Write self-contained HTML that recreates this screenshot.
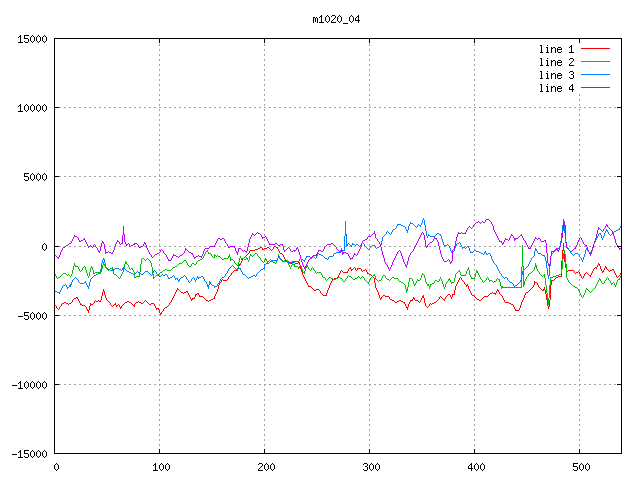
<!DOCTYPE html>
<html lang="en"><head><meta charset="utf-8"><title>m1020_04</title>
<style>
html,body{margin:0;padding:0;background:#fff;font-family:"Liberation Sans",sans-serif;}
svg{display:block}
</style></head><body>
<svg width="640" height="480" viewBox="0 0 640 480" shape-rendering="crispEdges">
<rect width="640" height="480" fill="#fff"/>
<g stroke="#a0a0a0" stroke-width="1" stroke-dasharray="2 3" fill="none"><line x1="54" y1="107.5" x2="621" y2="107.5"/><line x1="54" y1="176.5" x2="621" y2="176.5"/><line x1="54" y1="246.5" x2="621" y2="246.5"/><line x1="54" y1="315.5" x2="621" y2="315.5"/><line x1="54" y1="384.5" x2="621" y2="384.5"/><line x1="159.5" y1="451" x2="159.5" y2="38"/><line x1="264.5" y1="451" x2="264.5" y2="38"/><line x1="369.5" y1="451" x2="369.5" y2="38"/><line x1="474.5" y1="451" x2="474.5" y2="38"/><line x1="579.5" y1="451" x2="579.5" y2="93"/></g>
<path fill="#ff0000" d="M54 304h1v1h-1zM55 305h1v1h-1zM56 306h1v2h-1zM57 308h1v1h-1zM58 309h1v1h-1zM59 307h1v2h-1zM60 306h1v1h-1zM61 304h1v2h-1zM62 303h1v1h-1zM63 303h1v1h-1zM64 302h1v1h-1zM65 302h1v1h-1zM66 303h1v1h-1zM67 303h1v1h-1zM68 304h1v1h-1zM69 303h1v1h-1zM70 303h1v1h-1zM71 302h1v1h-1zM72 300h1v2h-1zM73 299h1v1h-1zM74 298h1v1h-1zM75 298h1v1h-1zM76 297h1v1h-1zM77 297h1v2h-1zM78 299h1v2h-1zM79 301h1v2h-1zM80 303h1v2h-1zM81 304h1v1h-1zM82 305h1v1h-1zM83 305h1v1h-1zM84 305h1v1h-1zM85 306h1v1h-1zM86 307h1v2h-1zM87 309h1v2h-1zM88 310h1v3h-1zM89 306h1v4h-1zM90 303h1v3h-1zM91 304h1v1h-1zM92 304h1v1h-1zM93 303h1v1h-1zM94 301h1v2h-1zM95 300h1v1h-1zM96 301h1v1h-1zM97 301h1v1h-1zM98 300h1v1h-1zM99 301h1v1h-1zM100 300h1v2h-1zM101 296h1v4h-1zM102 292h1v4h-1zM103 289h1v3h-1zM104 291h1v4h-1zM105 295h1v3h-1zM106 298h1v2h-1zM107 300h1v1h-1zM108 301h1v1h-1zM109 302h1v1h-1zM110 303h1v2h-1zM111 305h1v1h-1zM112 306h1v1h-1zM113 305h1v1h-1zM114 304h1v1h-1zM115 303h1v2h-1zM116 305h1v2h-1zM117 305h1v1h-1zM118 304h1v1h-1zM119 305h1v2h-1zM120 307h1v2h-1zM121 306h1v2h-1zM122 305h1v1h-1zM123 304h1v1h-1zM124 303h1v1h-1zM125 302h1v1h-1zM126 302h1v1h-1zM127 301h1v1h-1zM128 301h1v1h-1zM129 302h1v1h-1zM130 302h1v1h-1zM131 303h1v1h-1zM132 304h1v1h-1zM133 305h1v1h-1zM134 304h1v3h-1zM135 303h1v1h-1zM136 302h1v1h-1zM137 302h1v1h-1zM138 301h1v1h-1zM139 302h1v1h-1zM140 302h1v1h-1zM141 303h1v1h-1zM142 303h1v1h-1zM143 302h1v1h-1zM144 301h1v1h-1zM145 300h1v1h-1zM146 301h1v1h-1zM147 302h1v1h-1zM148 303h1v1h-1zM149 304h1v1h-1zM150 304h1v1h-1zM151 303h1v1h-1zM152 303h1v1h-1zM153 303h1v1h-1zM154 304h1v2h-1zM155 306h1v2h-1zM156 308h1v2h-1zM157 308h1v1h-1zM158 308h1v2h-1zM159 310h1v3h-1zM160 313h1v2h-1zM161 312h1v2h-1zM162 311h1v1h-1zM163 309h1v2h-1zM164 308h1v1h-1zM165 307h1v1h-1zM166 307h1v1h-1zM167 306h1v1h-1zM168 305h1v1h-1zM169 303h1v2h-1zM170 302h1v1h-1zM171 300h1v2h-1zM172 298h1v2h-1zM173 296h1v2h-1zM174 294h1v2h-1zM175 292h1v2h-1zM176 290h1v2h-1zM177 288h1v2h-1zM178 289h1v1h-1zM179 290h1v1h-1zM180 291h1v1h-1zM181 292h1v1h-1zM182 292h1v1h-1zM183 293h1v1h-1zM184 292h1v1h-1zM185 292h1v1h-1zM186 291h1v1h-1zM187 291h1v2h-1zM188 293h1v2h-1zM189 295h1v2h-1zM190 297h1v2h-1zM191 299h1v2h-1zM192 298h1v2h-1zM193 298h1v1h-1zM194 297h1v2h-1zM195 294h1v3h-1zM196 294h1v1h-1zM197 293h1v1h-1zM198 293h1v2h-1zM199 295h1v2h-1zM200 296h1v1h-1zM201 296h1v1h-1zM202 296h1v1h-1zM203 297h1v1h-1zM204 298h1v1h-1zM205 299h1v1h-1zM206 300h1v1h-1zM207 300h1v1h-1zM208 301h1v1h-1zM209 300h1v1h-1zM210 300h1v1h-1zM211 299h1v1h-1zM212 299h1v1h-1zM213 298h1v1h-1zM214 296h1v3h-1zM215 294h1v2h-1zM216 292h1v2h-1zM217 289h1v3h-1zM218 285h1v4h-1zM219 283h1v2h-1zM220 282h1v1h-1zM221 280h1v2h-1zM222 279h1v1h-1zM223 280h1v1h-1zM224 280h1v1h-1zM225 280h1v1h-1zM226 280h1v1h-1zM227 279h1v1h-1zM228 277h1v2h-1zM229 276h1v1h-1zM230 275h1v1h-1zM231 273h1v2h-1zM232 272h1v1h-1zM233 271h1v1h-1zM234 270h1v1h-1zM235 270h1v1h-1zM236 270h1v1h-1zM237 268h1v2h-1zM238 266h1v2h-1zM239 264h1v2h-1zM240 263h1v2h-1zM241 261h1v2h-1zM242 259h1v2h-1zM243 258h1v1h-1zM244 257h1v1h-1zM245 256h1v1h-1zM246 255h1v1h-1zM247 254h1v1h-1zM248 253h1v1h-1zM249 251h1v2h-1zM250 250h1v1h-1zM251 250h1v1h-1zM252 250h1v1h-1zM253 250h1v1h-1zM254 250h1v1h-1zM255 249h1v1h-1zM256 249h1v1h-1zM257 249h1v1h-1zM258 248h1v1h-1zM259 248h1v1h-1zM260 247h1v1h-1zM261 247h1v1h-1zM262 248h1v2h-1zM263 249h1v1h-1zM264 248h1v1h-1zM265 248h1v1h-1zM266 248h1v1h-1zM267 247h1v1h-1zM268 247h1v1h-1zM269 248h1v1h-1zM270 249h1v1h-1zM271 250h1v1h-1zM272 249h1v1h-1zM273 247h1v2h-1zM274 246h1v1h-1zM275 246h1v1h-1zM276 247h1v1h-1zM277 247h1v2h-1zM278 249h1v2h-1zM279 251h1v2h-1zM280 253h1v1h-1zM281 253h1v1h-1zM282 254h1v1h-1zM283 255h1v2h-1zM284 257h1v2h-1zM285 259h1v1h-1zM286 260h1v1h-1zM287 261h1v1h-1zM288 261h1v1h-1zM289 262h1v1h-1zM290 262h1v1h-1zM291 262h1v1h-1zM292 261h1v1h-1zM293 261h1v1h-1zM294 261h1v2h-1zM295 263h1v1h-1zM296 263h1v1h-1zM297 263h1v1h-1zM298 262h1v1h-1zM299 262h1v3h-1zM300 265h1v4h-1zM301 269h1v3h-1zM302 272h1v3h-1zM303 275h1v2h-1zM304 277h1v2h-1zM305 279h1v2h-1zM306 281h1v2h-1zM307 283h1v2h-1zM308 285h1v2h-1zM309 286h1v1h-1zM310 286h1v1h-1zM311 287h1v1h-1zM312 288h1v1h-1zM313 289h1v1h-1zM314 290h1v1h-1zM315 290h1v1h-1zM316 289h1v1h-1zM317 289h1v1h-1zM318 289h1v1h-1zM319 290h1v1h-1zM320 291h1v2h-1zM321 293h1v1h-1zM322 294h1v1h-1zM323 295h1v1h-1zM324 295h1v1h-1zM325 295h1v1h-1zM326 293h1v3h-1zM327 290h1v3h-1zM328 288h1v2h-1zM329 285h1v3h-1zM330 283h1v2h-1zM331 281h1v2h-1zM332 279h1v2h-1zM333 279h1v1h-1zM334 278h1v1h-1zM335 278h1v1h-1zM336 278h1v1h-1zM337 277h1v2h-1zM338 275h1v2h-1zM339 273h1v2h-1zM340 271h1v2h-1zM341 270h1v1h-1zM342 271h1v1h-1zM343 272h1v1h-1zM344 272h1v1h-1zM345 272h1v1h-1zM346 272h1v1h-1zM347 271h1v2h-1zM348 269h1v2h-1zM349 268h1v1h-1zM350 267h1v2h-1zM351 269h1v2h-1zM352 269h1v1h-1zM353 268h1v1h-1zM354 267h1v1h-1zM355 268h1v2h-1zM356 270h1v1h-1zM357 268h1v2h-1zM358 268h1v1h-1zM359 268h1v1h-1zM360 268h1v1h-1zM361 269h1v2h-1zM362 271h1v1h-1zM363 270h1v1h-1zM364 270h1v1h-1zM365 269h1v1h-1zM366 270h1v2h-1zM367 272h1v2h-1zM368 273h1v1h-1zM369 274h1v1h-1zM370 274h1v1h-1zM371 275h1v1h-1zM372 276h1v1h-1zM373 277h1v1h-1zM374 278h1v5h-1zM375 283h1v5h-1zM376 288h1v2h-1zM377 290h1v2h-1zM378 292h1v3h-1zM379 295h1v3h-1zM380 298h1v2h-1zM381 297h1v2h-1zM382 296h1v1h-1zM383 295h1v1h-1zM384 295h1v1h-1zM385 296h1v1h-1zM386 296h1v1h-1zM387 296h1v1h-1zM388 296h1v1h-1zM389 297h1v2h-1zM390 299h1v1h-1zM391 299h1v1h-1zM392 300h1v1h-1zM393 300h1v1h-1zM394 301h1v1h-1zM395 302h1v1h-1zM396 302h1v1h-1zM397 301h1v1h-1zM398 301h1v1h-1zM399 300h1v1h-1zM400 300h1v1h-1zM401 301h1v1h-1zM402 301h1v1h-1zM403 302h1v1h-1zM404 302h1v2h-1zM405 304h1v2h-1zM406 306h1v2h-1zM407 307h1v3h-1zM408 304h1v3h-1zM409 302h1v2h-1zM410 300h1v2h-1zM411 300h1v1h-1zM412 299h1v2h-1zM413 297h1v2h-1zM414 298h1v2h-1zM415 300h1v1h-1zM416 300h1v1h-1zM417 300h1v1h-1zM418 301h1v1h-1zM419 302h1v1h-1zM420 300h1v2h-1zM421 298h1v2h-1zM422 296h1v2h-1zM423 295h1v3h-1zM424 298h1v5h-1zM425 303h1v3h-1zM426 306h1v1h-1zM427 307h1v1h-1zM428 306h1v1h-1zM429 304h1v2h-1zM430 303h1v1h-1zM431 304h1v1h-1zM432 303h1v1h-1zM433 303h1v1h-1zM434 302h1v1h-1zM435 302h1v1h-1zM436 301h1v1h-1zM437 300h1v1h-1zM438 299h1v1h-1zM439 297h1v2h-1zM440 296h1v1h-1zM441 297h1v1h-1zM442 298h1v1h-1zM443 299h1v1h-1zM444 299h1v2h-1zM445 297h1v2h-1zM446 296h1v1h-1zM447 295h1v1h-1zM448 294h1v1h-1zM449 294h1v1h-1zM450 295h1v2h-1zM451 297h1v2h-1zM452 294h1v3h-1zM453 294h1v1h-1zM454 290h1v5h-1zM455 286h1v4h-1zM456 284h1v2h-1zM457 282h1v2h-1zM458 280h1v2h-1zM459 278h1v2h-1zM460 277h1v1h-1zM461 278h1v2h-1zM462 280h1v1h-1zM463 281h1v1h-1zM464 282h1v2h-1zM465 284h1v1h-1zM466 285h1v2h-1zM467 284h1v2h-1zM468 286h1v3h-1zM469 289h1v2h-1zM470 291h1v2h-1zM471 293h1v2h-1zM472 295h1v1h-1zM473 295h1v1h-1zM474 296h1v1h-1zM475 297h1v1h-1zM476 298h1v1h-1zM477 299h1v1h-1zM478 299h1v1h-1zM479 300h1v1h-1zM480 300h1v1h-1zM481 299h1v1h-1zM482 298h1v1h-1zM483 297h1v1h-1zM484 296h1v1h-1zM485 296h1v1h-1zM486 296h1v1h-1zM487 296h1v1h-1zM488 295h1v1h-1zM489 294h1v1h-1zM490 293h1v1h-1zM491 293h1v1h-1zM492 292h1v1h-1zM493 293h1v1h-1zM494 293h1v1h-1zM495 293h1v2h-1zM496 291h1v2h-1zM497 289h1v2h-1zM498 290h1v2h-1zM499 292h1v2h-1zM500 294h1v1h-1zM501 295h1v1h-1zM502 296h1v2h-1zM503 298h1v2h-1zM504 300h1v2h-1zM505 302h1v1h-1zM506 302h1v1h-1zM507 302h1v1h-1zM508 302h1v1h-1zM509 303h1v1h-1zM510 303h1v1h-1zM511 304h1v1h-1zM512 304h1v1h-1zM513 305h1v2h-1zM514 307h1v2h-1zM515 309h1v2h-1zM516 310h1v1h-1zM517 310h1v1h-1zM518 310h1v1h-1zM519 308h1v2h-1zM520 305h1v3h-1zM521 302h1v3h-1zM522 300h1v2h-1zM523 298h1v2h-1zM524 295h1v3h-1zM525 293h1v2h-1zM526 292h1v1h-1zM527 292h1v1h-1zM528 291h1v1h-1zM529 290h1v1h-1zM530 289h1v1h-1zM531 288h1v1h-1zM532 287h1v1h-1zM533 285h1v2h-1zM534 281h1v4h-1zM535 282h1v1h-1zM536 282h1v1h-1zM537 283h1v2h-1zM538 285h1v2h-1zM539 287h1v1h-1zM540 288h1v1h-1zM541 289h1v1h-1zM542 290h1v1h-1zM543 289h1v2h-1zM544 287h1v3h-1zM545 290h1v4h-1zM546 294h1v6h-1zM547 300h1v6h-1zM548 306h1v3h-1zM549 300h1v7h-1zM550 285h1v15h-1zM551 280h1v5h-1zM552 280h1v1h-1zM553 280h1v1h-1zM554 279h1v1h-1zM555 278h1v1h-1zM556 277h1v1h-1zM557 277h1v1h-1zM558 276h1v1h-1zM559 276h1v1h-1zM560 276h1v1h-1zM561 261h1v16h-1zM562 250h1v11h-1zM563 243h1v8h-1zM564 251h1v11h-1zM565 262h1v6h-1zM566 268h1v4h-1zM567 271h1v1h-1zM568 270h1v1h-1zM569 270h1v1h-1zM570 270h1v1h-1zM571 270h1v1h-1zM572 270h1v1h-1zM573 270h1v1h-1zM574 271h1v2h-1zM575 273h1v1h-1zM576 272h1v1h-1zM577 272h1v1h-1zM578 271h1v1h-1zM579 272h1v2h-1zM580 274h1v2h-1zM581 276h1v2h-1zM582 278h1v1h-1zM583 276h1v2h-1zM584 274h1v2h-1zM585 273h1v1h-1zM586 272h1v1h-1zM587 273h1v1h-1zM588 274h1v1h-1zM589 275h1v1h-1zM590 275h1v2h-1zM591 273h1v2h-1zM592 271h1v2h-1zM593 269h1v2h-1zM594 268h1v1h-1zM595 267h1v1h-1zM596 267h1v2h-1zM597 265h1v2h-1zM598 263h1v2h-1zM599 264h1v2h-1zM600 266h1v3h-1zM601 269h1v2h-1zM602 271h1v2h-1zM603 270h1v2h-1zM604 268h1v2h-1zM605 266h1v2h-1zM606 267h1v2h-1zM607 269h1v1h-1zM608 270h1v1h-1zM609 271h1v1h-1zM610 270h1v1h-1zM611 270h1v1h-1zM612 269h1v1h-1zM613 269h1v2h-1zM614 271h1v2h-1zM615 273h1v2h-1zM616 275h1v2h-1zM617 277h1v1h-1zM618 276h1v1h-1zM619 275h1v1h-1zM620 273h1v2h-1z"/>
<path fill="#00c000" d="M54 273h1v1h-1zM55 274h1v2h-1zM56 276h1v2h-1zM57 278h1v1h-1zM58 277h1v1h-1zM59 277h1v1h-1zM60 276h1v1h-1zM61 275h1v1h-1zM62 274h1v1h-1zM63 273h1v1h-1zM64 273h1v1h-1zM65 273h1v1h-1zM66 274h1v1h-1zM67 275h1v1h-1zM68 274h1v1h-1zM69 275h1v1h-1zM70 276h1v1h-1zM71 274h1v2h-1zM72 270h1v4h-1zM73 266h1v4h-1zM74 263h1v3h-1zM75 265h1v2h-1zM76 266h1v1h-1zM77 266h1v1h-1zM78 267h1v2h-1zM79 269h1v2h-1zM80 271h1v1h-1zM81 270h1v1h-1zM82 268h1v2h-1zM83 267h1v1h-1zM84 266h1v1h-1zM85 267h1v3h-1zM86 270h1v3h-1zM87 273h1v3h-1zM88 276h1v2h-1zM89 272h1v4h-1zM90 268h1v4h-1zM91 266h1v2h-1zM92 267h1v3h-1zM93 270h1v4h-1zM94 273h1v1h-1zM95 272h1v1h-1zM96 272h1v1h-1zM97 272h1v1h-1zM98 272h1v1h-1zM99 273h1v1h-1zM100 272h1v2h-1zM101 269h1v3h-1zM102 265h1v4h-1zM103 262h1v3h-1zM104 264h1v2h-1zM105 266h1v2h-1zM106 268h1v1h-1zM107 269h1v1h-1zM108 270h1v1h-1zM109 269h1v1h-1zM110 268h1v1h-1zM111 268h1v1h-1zM112 267h1v3h-1zM113 270h1v4h-1zM114 274h1v1h-1zM115 274h1v1h-1zM116 275h1v1h-1zM117 276h1v1h-1zM118 277h1v1h-1zM119 278h1v1h-1zM120 276h1v2h-1zM121 274h1v2h-1zM122 272h1v2h-1zM123 268h1v4h-1zM124 264h1v4h-1zM125 261h1v3h-1zM126 262h1v2h-1zM127 264h1v1h-1zM128 265h1v2h-1zM129 267h1v2h-1zM130 269h1v1h-1zM131 268h1v1h-1zM132 268h1v2h-1zM133 270h1v2h-1zM134 272h1v6h-1zM135 277h1v1h-1zM136 276h1v1h-1zM137 276h1v1h-1zM138 276h1v1h-1zM139 272h1v5h-1zM140 264h1v8h-1zM141 259h1v5h-1zM142 258h1v1h-1zM143 258h1v1h-1zM144 259h1v1h-1zM145 260h1v1h-1zM146 259h1v1h-1zM147 258h1v1h-1zM148 259h1v1h-1zM149 260h1v1h-1zM150 261h1v2h-1zM151 263h1v4h-1zM152 267h1v7h-1zM153 274h1v5h-1zM154 277h1v1h-1zM155 276h1v1h-1zM156 275h1v1h-1zM157 275h1v1h-1zM158 274h1v1h-1zM159 273h1v1h-1zM160 272h1v1h-1zM161 272h1v1h-1zM162 271h1v1h-1zM163 270h1v1h-1zM164 270h1v1h-1zM165 269h1v1h-1zM166 269h1v1h-1zM167 270h1v1h-1zM168 270h1v1h-1zM169 270h1v1h-1zM170 270h1v1h-1zM171 269h1v1h-1zM172 268h1v1h-1zM173 267h1v1h-1zM174 267h1v1h-1zM175 266h1v1h-1zM176 266h1v1h-1zM177 265h1v1h-1zM178 264h1v1h-1zM179 263h1v1h-1zM180 263h1v1h-1zM181 263h1v1h-1zM182 262h1v1h-1zM183 261h1v1h-1zM184 260h1v1h-1zM185 260h1v1h-1zM186 261h1v2h-1zM187 263h1v2h-1zM188 265h1v1h-1zM189 266h1v1h-1zM190 266h1v1h-1zM191 264h1v2h-1zM192 263h1v1h-1zM193 263h1v1h-1zM194 264h1v1h-1zM195 264h1v1h-1zM196 262h1v2h-1zM197 261h1v1h-1zM198 260h1v1h-1zM199 260h1v1h-1zM200 259h1v1h-1zM201 259h1v1h-1zM202 258h1v1h-1zM203 256h1v2h-1zM204 254h1v2h-1zM205 252h1v2h-1zM206 251h1v1h-1zM207 250h1v2h-1zM208 252h1v2h-1zM209 253h1v1h-1zM210 253h1v1h-1zM211 254h1v2h-1zM212 256h1v1h-1zM213 257h1v1h-1zM214 254h1v4h-1zM215 255h1v1h-1zM216 256h1v1h-1zM217 255h1v1h-1zM218 256h1v1h-1zM219 256h1v1h-1zM220 257h1v1h-1zM221 258h1v1h-1zM222 259h1v1h-1zM223 259h1v1h-1zM224 258h1v1h-1zM225 258h1v1h-1zM226 258h1v1h-1zM227 258h1v1h-1zM228 256h1v2h-1zM229 254h1v3h-1zM230 257h1v4h-1zM231 259h1v1h-1zM232 259h1v1h-1zM233 260h1v1h-1zM234 261h1v2h-1zM235 263h1v1h-1zM236 264h1v1h-1zM237 265h1v1h-1zM238 262h1v5h-1zM239 258h1v4h-1zM240 256h1v2h-1zM241 258h1v2h-1zM242 258h1v1h-1zM243 258h1v1h-1zM244 259h1v1h-1zM245 259h1v1h-1zM246 257h1v2h-1zM247 258h1v2h-1zM248 260h1v2h-1zM249 256h1v4h-1zM250 254h1v2h-1zM251 255h1v1h-1zM252 256h1v1h-1zM253 255h1v1h-1zM254 254h1v1h-1zM255 253h1v1h-1zM256 253h1v1h-1zM257 254h1v2h-1zM258 256h1v1h-1zM259 257h1v1h-1zM260 258h1v2h-1zM261 260h1v1h-1zM262 261h1v1h-1zM263 262h1v1h-1zM264 260h1v2h-1zM265 258h1v2h-1zM266 259h1v2h-1zM267 261h1v2h-1zM268 261h1v1h-1zM269 260h1v1h-1zM270 259h1v1h-1zM271 260h1v1h-1zM272 261h1v1h-1zM273 262h1v1h-1zM274 262h1v1h-1zM275 263h1v1h-1zM276 261h1v2h-1zM277 258h1v3h-1zM278 254h1v4h-1zM279 256h1v3h-1zM280 259h1v1h-1zM281 259h1v1h-1zM282 260h1v1h-1zM283 261h1v1h-1zM284 261h1v1h-1zM285 261h1v1h-1zM286 260h1v1h-1zM287 260h1v2h-1zM288 262h1v3h-1zM289 265h1v2h-1zM290 267h1v2h-1zM291 265h1v2h-1zM292 263h1v2h-1zM293 264h1v1h-1zM294 264h1v3h-1zM295 266h1v1h-1zM296 266h1v1h-1zM297 266h1v1h-1zM298 267h1v2h-1zM299 266h1v2h-1zM300 265h1v1h-1zM301 266h1v3h-1zM302 269h1v3h-1zM303 272h1v1h-1zM304 271h1v3h-1zM305 268h1v3h-1zM306 266h1v2h-1zM307 265h1v2h-1zM308 267h1v2h-1zM309 269h1v1h-1zM310 270h1v1h-1zM311 268h1v2h-1zM312 267h1v1h-1zM313 268h1v2h-1zM314 270h1v1h-1zM315 271h1v2h-1zM316 273h1v1h-1zM317 272h1v1h-1zM318 272h1v1h-1zM319 272h1v1h-1zM320 272h1v1h-1zM321 273h1v2h-1zM322 275h1v2h-1zM323 277h1v1h-1zM324 277h1v1h-1zM325 278h1v2h-1zM326 280h1v1h-1zM327 279h1v1h-1zM328 278h1v1h-1zM329 277h1v1h-1zM330 277h1v1h-1zM331 278h1v1h-1zM332 278h1v1h-1zM333 279h1v1h-1zM334 279h1v1h-1zM335 279h1v1h-1zM336 278h1v1h-1zM337 278h1v1h-1zM338 277h1v1h-1zM339 277h1v1h-1zM340 278h1v1h-1zM341 278h1v1h-1zM342 279h1v2h-1zM343 281h1v1h-1zM344 281h1v1h-1zM345 279h1v2h-1zM346 278h1v1h-1zM347 276h1v2h-1zM348 275h1v1h-1zM349 276h1v1h-1zM350 276h1v1h-1zM351 277h1v1h-1zM352 278h1v1h-1zM353 279h1v1h-1zM354 279h1v1h-1zM355 278h1v1h-1zM356 278h1v1h-1zM357 277h1v1h-1zM358 276h1v1h-1zM359 277h1v1h-1zM360 278h1v1h-1zM361 277h1v1h-1zM362 276h1v1h-1zM363 277h1v1h-1zM364 278h1v2h-1zM365 280h1v1h-1zM366 281h1v1h-1zM367 282h1v1h-1zM368 282h1v2h-1zM369 280h1v2h-1zM370 278h1v2h-1zM371 277h1v1h-1zM372 276h1v1h-1zM373 275h1v1h-1zM374 274h1v2h-1zM375 276h1v3h-1zM376 279h1v1h-1zM377 280h1v1h-1zM378 281h1v1h-1zM379 280h1v1h-1zM380 280h1v1h-1zM381 278h1v2h-1zM382 276h1v2h-1zM383 275h1v1h-1zM384 275h1v1h-1zM385 276h1v2h-1zM386 278h1v1h-1zM387 279h1v1h-1zM388 279h1v1h-1zM389 280h1v1h-1zM390 279h1v1h-1zM391 278h1v1h-1zM392 277h1v1h-1zM393 277h1v1h-1zM394 278h1v1h-1zM395 278h1v1h-1zM396 278h1v1h-1zM397 278h1v1h-1zM398 279h1v2h-1zM399 281h1v1h-1zM400 281h1v1h-1zM401 282h1v1h-1zM402 282h1v1h-1zM403 283h1v1h-1zM404 284h1v1h-1zM405 285h1v4h-1zM406 289h1v4h-1zM407 287h1v4h-1zM408 282h1v5h-1zM409 278h1v4h-1zM410 278h1v1h-1zM411 278h1v1h-1zM412 279h1v2h-1zM413 281h1v3h-1zM414 284h1v2h-1zM415 283h1v2h-1zM416 281h1v2h-1zM417 279h1v2h-1zM418 280h1v1h-1zM419 280h1v1h-1zM420 278h1v2h-1zM421 275h1v3h-1zM422 273h1v2h-1zM423 274h1v1h-1zM424 275h1v3h-1zM425 278h1v4h-1zM426 282h1v2h-1zM427 284h1v2h-1zM428 284h1v2h-1zM429 286h1v3h-1zM430 284h1v3h-1zM431 284h1v1h-1zM432 283h1v1h-1zM433 283h1v1h-1zM434 281h1v2h-1zM435 280h1v1h-1zM436 280h1v1h-1zM437 281h1v1h-1zM438 281h1v1h-1zM439 279h1v2h-1zM440 277h1v2h-1zM441 279h1v2h-1zM442 281h1v3h-1zM443 284h1v3h-1zM444 287h1v2h-1zM445 284h1v3h-1zM446 282h1v2h-1zM447 281h1v1h-1zM448 279h1v2h-1zM449 278h1v2h-1zM450 280h1v2h-1zM451 282h1v2h-1zM452 282h1v1h-1zM453 282h1v1h-1zM454 278h1v4h-1zM455 274h1v4h-1zM456 273h1v1h-1zM457 272h1v1h-1zM458 271h1v1h-1zM459 270h1v2h-1zM460 272h1v3h-1zM461 275h1v1h-1zM462 275h1v1h-1zM463 275h1v1h-1zM464 275h1v1h-1zM465 274h1v2h-1zM466 271h1v3h-1zM467 269h1v2h-1zM468 267h1v3h-1zM469 270h1v5h-1zM470 275h1v2h-1zM471 277h1v2h-1zM472 278h1v1h-1zM473 278h1v1h-1zM474 277h1v2h-1zM475 273h1v4h-1zM476 270h1v3h-1zM477 271h1v2h-1zM478 273h1v2h-1zM479 275h1v2h-1zM480 277h1v2h-1zM481 279h1v1h-1zM482 280h1v2h-1zM483 282h1v1h-1zM484 281h1v1h-1zM485 280h1v1h-1zM486 278h1v2h-1zM487 277h1v1h-1zM488 278h1v2h-1zM489 280h1v2h-1zM490 280h1v1h-1zM491 280h1v1h-1zM492 281h1v1h-1zM493 282h1v1h-1zM494 281h1v1h-1zM495 281h1v1h-1zM496 279h1v2h-1zM497 278h1v1h-1zM498 279h1v1h-1zM499 279h1v3h-1zM500 282h1v4h-1zM501 286h1v3h-1zM502 286h1v2h-1zM503 287h1v1h-1zM504 287h1v1h-1zM505 287h1v1h-1zM506 287h1v1h-1zM507 287h1v1h-1zM508 287h1v1h-1zM509 287h1v1h-1zM510 287h1v1h-1zM511 287h1v1h-1zM512 287h1v1h-1zM513 287h1v1h-1zM514 287h1v1h-1zM515 287h1v1h-1zM516 287h1v1h-1zM517 287h1v1h-1zM518 287h1v1h-1zM519 287h1v1h-1zM520 287h1v1h-1zM521 267h1v21h-1zM522 245h1v22h-1zM523 266h1v21h-1zM524 281h1v4h-1zM525 279h1v2h-1zM526 277h1v2h-1zM527 276h1v1h-1zM528 274h1v2h-1zM529 273h1v1h-1zM530 273h1v1h-1zM531 272h1v1h-1zM532 271h1v1h-1zM533 270h1v1h-1zM534 267h1v3h-1zM535 263h1v4h-1zM536 265h1v4h-1zM537 269h1v2h-1zM538 271h1v1h-1zM539 272h1v2h-1zM540 274h1v1h-1zM541 275h1v1h-1zM542 276h1v1h-1zM543 275h1v1h-1zM544 274h1v4h-1zM545 278h1v7h-1zM546 285h1v8h-1zM547 293h1v7h-1zM548 298h1v7h-1zM549 285h1v13h-1zM550 277h1v8h-1zM551 277h1v1h-1zM552 277h1v1h-1zM553 276h1v1h-1zM554 276h1v1h-1zM555 276h1v1h-1zM556 275h1v1h-1zM557 275h1v1h-1zM558 275h1v1h-1zM559 274h1v1h-1zM560 274h1v1h-1zM561 269h1v5h-1zM562 259h1v10h-1zM563 253h1v6h-1zM564 250h1v4h-1zM565 254h1v10h-1zM566 264h1v14h-1zM567 278h1v2h-1zM568 280h1v2h-1zM569 282h1v1h-1zM570 283h1v1h-1zM571 284h1v1h-1zM572 285h1v1h-1zM573 286h1v1h-1zM574 286h1v1h-1zM575 287h1v1h-1zM576 287h1v1h-1zM577 288h1v1h-1zM578 289h1v2h-1zM579 291h1v2h-1zM580 293h1v2h-1zM581 295h1v2h-1zM582 297h1v1h-1zM583 295h1v2h-1zM584 293h1v2h-1zM585 290h1v3h-1zM586 288h1v2h-1zM587 289h1v1h-1zM588 290h1v1h-1zM589 291h1v1h-1zM590 292h1v1h-1zM591 291h1v1h-1zM592 290h1v1h-1zM593 289h1v1h-1zM594 288h1v1h-1zM595 286h1v2h-1zM596 284h1v2h-1zM597 282h1v2h-1zM598 280h1v2h-1zM599 278h1v2h-1zM600 279h1v2h-1zM601 281h1v2h-1zM602 283h1v1h-1zM603 283h1v1h-1zM604 281h1v2h-1zM605 280h1v1h-1zM606 278h1v2h-1zM607 277h1v1h-1zM608 278h1v2h-1zM609 280h1v1h-1zM610 281h1v2h-1zM611 283h1v2h-1zM612 283h1v1h-1zM613 282h1v1h-1zM614 283h1v2h-1zM615 285h1v2h-1zM616 282h1v3h-1zM617 280h1v2h-1zM618 279h1v1h-1zM619 278h1v2h-1zM620 276h1v2h-1z"/>
<path fill="#0080ff" d="M54 290h1v1h-1zM55 291h1v1h-1zM56 291h1v1h-1zM57 292h1v1h-1zM58 292h1v1h-1zM59 292h1v2h-1zM60 290h1v2h-1zM61 288h1v2h-1zM62 286h1v2h-1zM63 285h1v1h-1zM64 285h1v1h-1zM65 284h1v1h-1zM66 285h1v2h-1zM67 287h1v2h-1zM68 287h1v1h-1zM69 285h1v2h-1zM70 284h1v3h-1zM71 282h1v3h-1zM72 280h1v2h-1zM73 279h1v1h-1zM74 278h1v1h-1zM75 277h1v1h-1zM76 278h1v1h-1zM77 279h1v1h-1zM78 280h1v2h-1zM79 282h1v1h-1zM80 283h1v1h-1zM81 283h1v1h-1zM82 283h1v1h-1zM83 283h1v1h-1zM84 282h1v1h-1zM85 281h1v2h-1zM86 283h1v2h-1zM87 285h1v2h-1zM88 286h1v3h-1zM89 282h1v4h-1zM90 279h1v3h-1zM91 278h1v1h-1zM92 277h1v1h-1zM93 276h1v1h-1zM94 275h1v1h-1zM95 275h1v1h-1zM96 274h1v1h-1zM97 274h1v1h-1zM98 273h1v1h-1zM99 272h1v1h-1zM100 269h1v3h-1zM101 263h1v6h-1zM102 260h1v3h-1zM103 258h1v2h-1zM104 259h1v4h-1zM105 263h1v4h-1zM106 267h1v1h-1zM107 268h1v1h-1zM108 269h1v1h-1zM109 269h1v1h-1zM110 270h1v1h-1zM111 270h1v1h-1zM112 270h1v1h-1zM113 269h1v1h-1zM114 269h1v1h-1zM115 268h1v1h-1zM116 268h1v1h-1zM117 268h1v1h-1zM118 268h1v1h-1zM119 269h1v1h-1zM120 269h1v1h-1zM121 270h1v1h-1zM122 268h1v2h-1zM123 267h1v1h-1zM124 268h1v1h-1zM125 269h1v1h-1zM126 270h1v1h-1zM127 271h1v1h-1zM128 271h1v1h-1zM129 272h1v1h-1zM130 272h1v1h-1zM131 273h1v1h-1zM132 273h1v1h-1zM133 274h1v1h-1zM134 274h1v1h-1zM135 273h1v1h-1zM136 272h1v1h-1zM137 271h1v1h-1zM138 272h1v1h-1zM139 273h1v1h-1zM140 273h1v1h-1zM141 274h1v1h-1zM142 274h1v1h-1zM143 273h1v1h-1zM144 272h1v1h-1zM145 271h1v1h-1zM146 271h1v1h-1zM147 271h1v1h-1zM148 272h1v1h-1zM149 273h1v1h-1zM150 274h1v1h-1zM151 275h1v1h-1zM152 273h1v2h-1zM153 271h1v2h-1zM154 270h1v1h-1zM155 271h1v1h-1zM156 272h1v2h-1zM157 274h1v1h-1zM158 275h1v1h-1zM159 276h1v1h-1zM160 276h1v1h-1zM161 275h1v1h-1zM162 274h1v1h-1zM163 275h1v1h-1zM164 275h1v1h-1zM165 274h1v1h-1zM166 274h1v1h-1zM167 275h1v2h-1zM168 277h1v2h-1zM169 278h1v1h-1zM170 277h1v1h-1zM171 277h1v1h-1zM172 276h1v1h-1zM173 275h1v1h-1zM174 276h1v2h-1zM175 278h1v2h-1zM176 278h1v1h-1zM177 278h1v2h-1zM178 280h1v2h-1zM179 279h1v2h-1zM180 278h1v1h-1zM181 277h1v1h-1zM182 277h1v1h-1zM183 276h1v1h-1zM184 275h1v1h-1zM185 276h1v1h-1zM186 277h1v2h-1zM187 279h1v1h-1zM188 280h1v2h-1zM189 282h1v1h-1zM190 281h1v1h-1zM191 279h1v2h-1zM192 278h1v1h-1zM193 277h1v1h-1zM194 278h1v2h-1zM195 280h1v2h-1zM196 278h1v2h-1zM197 276h1v2h-1zM198 277h1v2h-1zM199 277h1v1h-1zM200 277h1v1h-1zM201 276h1v1h-1zM202 276h1v1h-1zM203 277h1v2h-1zM204 279h1v2h-1zM205 281h1v1h-1zM206 282h1v2h-1zM207 284h1v3h-1zM208 285h1v4h-1zM209 281h1v4h-1zM210 282h1v2h-1zM211 284h1v1h-1zM212 285h1v1h-1zM213 285h1v1h-1zM214 286h1v2h-1zM215 286h1v1h-1zM216 286h1v1h-1zM217 284h1v2h-1zM218 283h1v1h-1zM219 281h1v2h-1zM220 279h1v2h-1zM221 278h1v1h-1zM222 277h1v1h-1zM223 277h1v1h-1zM224 276h1v1h-1zM225 274h1v2h-1zM226 273h1v1h-1zM227 271h1v2h-1zM228 269h1v2h-1zM229 268h1v1h-1zM230 267h1v1h-1zM231 266h1v1h-1zM232 265h1v1h-1zM233 266h1v1h-1zM234 267h1v1h-1zM235 268h1v1h-1zM236 269h1v1h-1zM237 269h1v2h-1zM238 267h1v2h-1zM239 268h1v1h-1zM240 268h1v2h-1zM241 270h1v2h-1zM242 272h1v2h-1zM243 274h1v1h-1zM244 274h1v1h-1zM245 275h1v1h-1zM246 276h1v1h-1zM247 277h1v1h-1zM248 278h1v1h-1zM249 277h1v1h-1zM250 277h1v1h-1zM251 276h1v1h-1zM252 276h1v1h-1zM253 275h1v1h-1zM254 275h1v1h-1zM255 276h1v1h-1zM256 274h1v2h-1zM257 273h1v1h-1zM258 272h1v1h-1zM259 271h1v1h-1zM260 270h1v1h-1zM261 269h1v1h-1zM262 269h1v1h-1zM263 268h1v1h-1zM264 264h1v5h-1zM265 264h1v1h-1zM266 263h1v1h-1zM267 263h1v1h-1zM268 263h1v1h-1zM269 262h1v1h-1zM270 261h1v1h-1zM271 261h1v1h-1zM272 260h1v1h-1zM273 260h1v1h-1zM274 260h1v1h-1zM275 260h1v1h-1zM276 260h1v1h-1zM277 258h1v2h-1zM278 256h1v2h-1zM279 257h1v1h-1zM280 258h1v1h-1zM281 259h1v2h-1zM282 261h1v1h-1zM283 261h1v1h-1zM284 260h1v1h-1zM285 260h1v1h-1zM286 261h1v1h-1zM287 262h1v1h-1zM288 262h1v1h-1zM289 263h1v1h-1zM290 263h1v1h-1zM291 263h1v1h-1zM292 262h1v1h-1zM293 262h1v1h-1zM294 261h1v2h-1zM295 261h1v1h-1zM296 261h1v1h-1zM297 261h1v1h-1zM298 261h1v1h-1zM299 259h1v2h-1zM300 258h1v1h-1zM301 259h1v1h-1zM302 259h1v1h-1zM303 260h1v1h-1zM304 260h1v2h-1zM305 258h1v2h-1zM306 256h1v2h-1zM307 256h1v1h-1zM308 256h1v1h-1zM309 256h1v1h-1zM310 257h1v1h-1zM311 258h1v1h-1zM312 257h1v1h-1zM313 256h1v1h-1zM314 257h1v1h-1zM315 258h1v1h-1zM316 256h1v2h-1zM317 254h1v2h-1zM318 253h1v1h-1zM319 254h1v1h-1zM320 254h1v1h-1zM321 255h1v1h-1zM322 255h1v1h-1zM323 256h1v1h-1zM324 257h1v1h-1zM325 258h1v1h-1zM326 258h1v1h-1zM327 259h1v1h-1zM328 257h1v2h-1zM329 256h1v1h-1zM330 256h1v1h-1zM331 256h1v1h-1zM332 256h1v1h-1zM333 254h1v2h-1zM334 253h1v1h-1zM335 253h1v1h-1zM336 252h1v1h-1zM337 252h1v1h-1zM338 252h1v1h-1zM339 252h1v1h-1zM340 251h1v2h-1zM341 248h1v3h-1zM342 250h1v2h-1zM343 250h1v1h-1zM344 236h1v15h-1zM345 221h1v15h-1zM346 234h1v13h-1zM347 244h1v2h-1zM348 243h1v1h-1zM349 244h1v1h-1zM350 245h1v1h-1zM351 245h1v2h-1zM352 243h1v2h-1zM353 244h1v1h-1zM354 244h1v1h-1zM355 245h1v1h-1zM356 244h1v1h-1zM357 244h1v1h-1zM358 245h1v1h-1zM359 246h1v1h-1zM360 245h1v1h-1zM361 243h1v2h-1zM362 242h1v1h-1zM363 243h1v1h-1zM364 244h1v2h-1zM365 246h1v1h-1zM366 247h1v1h-1zM367 248h1v1h-1zM368 249h1v1h-1zM369 248h1v1h-1zM370 247h1v1h-1zM371 246h1v1h-1zM372 245h1v1h-1zM373 245h1v1h-1zM374 245h1v1h-1zM375 246h1v2h-1zM376 248h1v1h-1zM377 247h1v1h-1zM378 247h1v1h-1zM379 246h1v1h-1zM380 245h1v1h-1zM381 241h1v4h-1zM382 237h1v4h-1zM383 236h1v1h-1zM384 235h1v1h-1zM385 234h1v1h-1zM386 232h1v2h-1zM387 231h1v1h-1zM388 232h1v1h-1zM389 233h1v1h-1zM390 234h1v1h-1zM391 232h1v2h-1zM392 230h1v2h-1zM393 229h1v1h-1zM394 229h1v1h-1zM395 228h1v1h-1zM396 226h1v2h-1zM397 224h1v2h-1zM398 224h1v1h-1zM399 224h1v1h-1zM400 224h1v1h-1zM401 225h1v1h-1zM402 225h1v1h-1zM403 226h1v1h-1zM404 226h1v1h-1zM405 227h1v2h-1zM406 229h1v2h-1zM407 230h1v3h-1zM408 226h1v4h-1zM409 224h1v2h-1zM410 222h1v2h-1zM411 223h1v1h-1zM412 223h1v1h-1zM413 224h1v1h-1zM414 225h1v1h-1zM415 226h1v1h-1zM416 227h1v1h-1zM417 225h1v2h-1zM418 224h1v1h-1zM419 225h1v1h-1zM420 225h1v2h-1zM421 223h1v2h-1zM422 220h1v3h-1zM423 218h1v2h-1zM424 220h1v5h-1zM425 225h1v6h-1zM426 231h1v5h-1zM427 236h1v2h-1zM428 234h1v2h-1zM429 235h1v1h-1zM430 236h1v1h-1zM431 236h1v1h-1zM432 236h1v1h-1zM433 236h1v1h-1zM434 236h1v1h-1zM435 235h1v1h-1zM436 234h1v1h-1zM437 233h1v1h-1zM438 233h1v1h-1zM439 234h1v1h-1zM440 234h1v2h-1zM441 236h1v3h-1zM442 239h1v3h-1zM443 242h1v3h-1zM444 245h1v2h-1zM445 245h1v1h-1zM446 245h1v1h-1zM447 244h1v1h-1zM448 245h1v1h-1zM449 246h1v2h-1zM450 248h1v3h-1zM451 251h1v2h-1zM452 251h1v1h-1zM453 251h1v1h-1zM454 248h1v3h-1zM455 246h1v2h-1zM456 244h1v2h-1zM457 243h1v1h-1zM458 243h1v1h-1zM459 242h1v1h-1zM460 243h1v2h-1zM461 245h1v2h-1zM462 247h1v2h-1zM463 247h1v1h-1zM464 247h1v1h-1zM465 248h1v1h-1zM466 247h1v1h-1zM467 246h1v1h-1zM468 246h1v2h-1zM469 248h1v3h-1zM470 251h1v2h-1zM471 252h1v1h-1zM472 252h1v1h-1zM473 251h1v1h-1zM474 250h1v1h-1zM475 250h1v1h-1zM476 251h1v1h-1zM477 251h1v1h-1zM478 251h1v1h-1zM479 252h1v1h-1zM480 252h1v1h-1zM481 253h1v1h-1zM482 253h1v1h-1zM483 254h1v1h-1zM484 252h1v2h-1zM485 251h1v2h-1zM486 253h1v2h-1zM487 254h1v1h-1zM488 253h1v1h-1zM489 253h1v1h-1zM490 254h1v2h-1zM491 256h1v3h-1zM492 259h1v2h-1zM493 261h1v2h-1zM494 263h1v1h-1zM495 264h1v1h-1zM496 265h1v2h-1zM497 267h1v2h-1zM498 269h1v2h-1zM499 271h1v2h-1zM500 273h1v1h-1zM501 274h1v2h-1zM502 276h1v1h-1zM503 277h1v1h-1zM504 278h1v1h-1zM505 277h1v1h-1zM506 277h1v1h-1zM507 278h1v2h-1zM508 280h1v1h-1zM509 281h1v1h-1zM510 282h1v1h-1zM511 282h1v1h-1zM512 283h1v1h-1zM513 284h1v2h-1zM514 286h1v1h-1zM515 285h1v1h-1zM516 285h1v1h-1zM517 284h1v1h-1zM518 283h1v1h-1zM519 282h1v1h-1zM520 280h1v2h-1zM521 275h1v5h-1zM522 271h1v4h-1zM523 270h1v1h-1zM524 269h1v1h-1zM525 268h1v1h-1zM526 267h1v1h-1zM527 266h1v1h-1zM528 264h1v2h-1zM529 262h1v2h-1zM530 260h1v2h-1zM531 258h1v2h-1zM532 257h1v1h-1zM533 256h1v1h-1zM534 251h1v5h-1zM535 248h1v3h-1zM536 249h1v2h-1zM537 251h1v2h-1zM538 253h1v1h-1zM539 253h1v1h-1zM540 253h1v1h-1zM541 254h1v1h-1zM542 255h1v1h-1zM543 255h1v1h-1zM544 255h1v2h-1zM545 257h1v4h-1zM546 261h1v7h-1zM547 268h1v7h-1zM548 275h1v4h-1zM549 266h1v10h-1zM550 256h1v10h-1zM551 252h1v4h-1zM552 253h1v1h-1zM553 252h1v1h-1zM554 251h1v1h-1zM555 250h1v1h-1zM556 249h1v1h-1zM557 248h1v1h-1zM558 248h1v1h-1zM559 246h1v2h-1zM560 241h1v5h-1zM561 233h1v8h-1zM562 225h1v8h-1zM563 219h1v6h-1zM564 224h1v9h-1zM565 233h1v9h-1zM566 242h1v5h-1zM567 247h1v1h-1zM568 248h1v2h-1zM569 250h1v1h-1zM570 251h1v2h-1zM571 253h1v1h-1zM572 254h1v1h-1zM573 255h1v1h-1zM574 254h1v1h-1zM575 253h1v1h-1zM576 253h1v1h-1zM577 253h1v1h-1zM578 254h1v1h-1zM579 255h1v2h-1zM580 257h1v1h-1zM581 258h1v2h-1zM582 260h1v2h-1zM583 257h1v3h-1zM584 254h1v3h-1zM585 250h1v4h-1zM586 248h1v2h-1zM587 249h1v2h-1zM588 251h1v1h-1zM589 252h1v1h-1zM590 252h1v2h-1zM591 250h1v2h-1zM592 247h1v3h-1zM593 244h1v3h-1zM594 242h1v2h-1zM595 240h1v2h-1zM596 238h1v2h-1zM597 236h1v2h-1zM598 234h1v2h-1zM599 233h1v1h-1zM600 233h1v2h-1zM601 235h1v3h-1zM602 238h1v2h-1zM603 236h1v2h-1zM604 233h1v3h-1zM605 231h1v2h-1zM606 229h1v2h-1zM607 230h1v2h-1zM608 232h1v2h-1zM609 234h1v1h-1zM610 235h1v1h-1zM611 234h1v1h-1zM612 233h1v1h-1zM613 232h1v1h-1zM614 231h1v1h-1zM615 231h1v1h-1zM616 230h1v1h-1zM617 230h1v1h-1zM618 229h1v1h-1zM619 228h1v2h-1zM620 226h1v2h-1z"/>
<path fill="#c000ff" d="M54 254h1v1h-1zM55 255h1v1h-1zM56 256h1v1h-1zM57 257h1v1h-1zM58 257h1v2h-1zM59 255h1v2h-1zM60 252h1v3h-1zM61 250h1v2h-1zM62 248h1v2h-1zM63 247h1v1h-1zM64 247h1v1h-1zM65 246h1v1h-1zM66 245h1v1h-1zM67 245h1v1h-1zM68 244h1v1h-1zM69 243h1v1h-1zM70 243h1v1h-1zM71 241h1v2h-1zM72 239h1v2h-1zM73 237h1v2h-1zM74 235h1v2h-1zM75 236h1v1h-1zM76 236h1v1h-1zM77 237h1v1h-1zM78 238h1v2h-1zM79 240h1v2h-1zM80 241h1v1h-1zM81 240h1v1h-1zM82 240h1v1h-1zM83 239h1v1h-1zM84 238h1v2h-1zM85 240h1v2h-1zM86 242h1v2h-1zM87 244h1v2h-1zM88 246h1v2h-1zM89 246h1v1h-1zM90 245h1v1h-1zM91 246h1v1h-1zM92 247h1v1h-1zM93 245h1v2h-1zM94 244h1v1h-1zM95 245h1v2h-1zM96 247h1v1h-1zM97 248h1v2h-1zM98 250h1v2h-1zM99 251h1v2h-1zM100 247h1v4h-1zM101 243h1v4h-1zM102 241h1v2h-1zM103 242h1v2h-1zM104 244h1v5h-1zM105 249h1v5h-1zM106 252h1v1h-1zM107 252h1v1h-1zM108 251h1v1h-1zM109 252h1v1h-1zM110 252h1v1h-1zM111 253h1v1h-1zM112 252h1v2h-1zM113 250h1v2h-1zM114 247h1v3h-1zM115 244h1v3h-1zM116 242h1v2h-1zM117 240h1v2h-1zM118 241h1v1h-1zM119 242h1v2h-1zM120 244h1v1h-1zM121 243h1v1h-1zM122 235h1v9h-1zM123 226h1v9h-1zM124 234h1v8h-1zM125 242h1v2h-1zM126 244h1v2h-1zM127 244h1v1h-1zM128 243h1v1h-1zM129 244h1v2h-1zM130 246h1v1h-1zM131 245h1v1h-1zM132 245h1v1h-1zM133 244h1v1h-1zM134 243h1v2h-1zM135 243h1v1h-1zM136 243h1v1h-1zM137 244h1v1h-1zM138 245h1v2h-1zM139 247h1v1h-1zM140 247h1v1h-1zM141 246h1v1h-1zM142 246h1v1h-1zM143 244h1v2h-1zM144 242h1v2h-1zM145 243h1v2h-1zM146 245h1v3h-1zM147 248h1v2h-1zM148 250h1v2h-1zM149 252h1v2h-1zM150 254h1v1h-1zM151 255h1v2h-1zM152 257h1v1h-1zM153 256h1v1h-1zM154 255h1v1h-1zM155 254h1v1h-1zM156 254h1v1h-1zM157 253h1v1h-1zM158 253h1v1h-1zM159 252h1v1h-1zM160 250h1v2h-1zM161 249h1v1h-1zM162 250h1v1h-1zM163 251h1v2h-1zM164 253h1v1h-1zM165 254h1v1h-1zM166 255h1v2h-1zM167 257h1v2h-1zM168 259h1v2h-1zM169 260h1v1h-1zM170 260h1v1h-1zM171 258h1v2h-1zM172 256h1v2h-1zM173 254h1v2h-1zM174 255h1v1h-1zM175 255h1v1h-1zM176 256h1v1h-1zM177 256h1v1h-1zM178 257h1v1h-1zM179 256h1v1h-1zM180 255h1v1h-1zM181 255h1v1h-1zM182 254h1v1h-1zM183 253h1v1h-1zM184 251h1v2h-1zM185 248h1v3h-1zM186 249h1v1h-1zM187 250h1v1h-1zM188 251h1v1h-1zM189 252h1v1h-1zM190 252h1v1h-1zM191 253h1v1h-1zM192 253h1v2h-1zM193 255h1v2h-1zM194 257h1v2h-1zM195 257h1v1h-1zM196 256h1v1h-1zM197 256h1v1h-1zM198 255h1v1h-1zM199 256h1v1h-1zM200 256h1v1h-1zM201 256h1v2h-1zM202 254h1v2h-1zM203 251h1v3h-1zM204 249h1v2h-1zM205 248h1v1h-1zM206 248h1v1h-1zM207 248h1v1h-1zM208 248h1v1h-1zM209 247h1v1h-1zM210 246h1v1h-1zM211 246h1v1h-1zM212 246h1v1h-1zM213 246h1v1h-1zM214 245h1v2h-1zM215 243h1v2h-1zM216 241h1v2h-1zM217 239h1v2h-1zM218 238h1v1h-1zM219 238h1v1h-1zM220 239h1v1h-1zM221 239h1v1h-1zM222 238h1v1h-1zM223 238h1v1h-1zM224 239h1v2h-1zM225 241h1v2h-1zM226 243h1v1h-1zM227 244h1v2h-1zM228 246h1v2h-1zM229 247h1v1h-1zM230 246h1v1h-1zM231 246h1v1h-1zM232 246h1v1h-1zM233 246h1v1h-1zM234 246h1v2h-1zM235 248h1v3h-1zM236 251h1v2h-1zM237 252h1v3h-1zM238 248h1v4h-1zM239 248h1v1h-1zM240 248h1v1h-1zM241 249h1v1h-1zM242 250h1v1h-1zM243 251h1v1h-1zM244 250h1v1h-1zM245 251h1v1h-1zM246 251h1v2h-1zM247 247h1v4h-1zM248 243h1v4h-1zM249 239h1v4h-1zM250 237h1v2h-1zM251 235h1v2h-1zM252 233h1v2h-1zM253 234h1v1h-1zM254 235h1v1h-1zM255 234h1v1h-1zM256 233h1v1h-1zM257 232h1v1h-1zM258 233h1v1h-1zM259 233h1v1h-1zM260 234h1v1h-1zM261 235h1v2h-1zM262 237h1v2h-1zM263 237h1v1h-1zM264 237h1v1h-1zM265 236h1v1h-1zM266 237h1v2h-1zM267 239h1v2h-1zM268 241h1v2h-1zM269 243h1v2h-1zM270 244h1v1h-1zM271 244h1v1h-1zM272 244h1v1h-1zM273 244h1v1h-1zM274 244h1v1h-1zM275 243h1v1h-1zM276 243h1v1h-1zM277 244h1v1h-1zM278 245h1v1h-1zM279 245h1v1h-1zM280 244h1v1h-1zM281 244h1v1h-1zM282 244h1v2h-1zM283 246h1v4h-1zM284 250h1v2h-1zM285 250h1v1h-1zM286 249h1v1h-1zM287 248h1v1h-1zM288 247h1v1h-1zM289 248h1v1h-1zM290 249h1v2h-1zM291 251h1v1h-1zM292 251h1v1h-1zM293 250h1v1h-1zM294 250h1v2h-1zM295 250h1v1h-1zM296 248h1v2h-1zM297 247h1v2h-1zM298 249h1v3h-1zM299 252h1v3h-1zM300 255h1v4h-1zM301 259h1v3h-1zM302 262h1v3h-1zM303 265h1v2h-1zM304 267h1v2h-1zM305 266h1v2h-1zM306 264h1v2h-1zM307 262h1v2h-1zM308 260h1v2h-1zM309 259h1v1h-1zM310 258h1v1h-1zM311 257h1v1h-1zM312 256h1v1h-1zM313 255h1v1h-1zM314 255h1v1h-1zM315 255h1v1h-1zM316 254h1v2h-1zM317 252h1v2h-1zM318 250h1v2h-1zM319 250h1v1h-1zM320 250h1v1h-1zM321 251h1v1h-1zM322 251h1v1h-1zM323 249h1v2h-1zM324 247h1v2h-1zM325 246h1v1h-1zM326 245h1v1h-1zM327 244h1v1h-1zM328 244h1v1h-1zM329 244h1v1h-1zM330 244h1v1h-1zM331 243h1v1h-1zM332 243h1v1h-1zM333 244h1v1h-1zM334 245h1v1h-1zM335 246h1v1h-1zM336 247h1v2h-1zM337 249h1v1h-1zM338 250h1v1h-1zM339 251h1v1h-1zM340 250h1v1h-1zM341 249h1v3h-1zM342 252h1v3h-1zM343 252h1v2h-1zM344 252h1v1h-1zM345 252h1v1h-1zM346 253h1v1h-1zM347 253h1v1h-1zM348 254h1v2h-1zM349 256h1v2h-1zM350 258h1v2h-1zM351 258h1v1h-1zM352 257h1v2h-1zM353 255h1v2h-1zM354 253h1v2h-1zM355 254h1v1h-1zM356 255h1v1h-1zM357 253h1v2h-1zM358 251h1v2h-1zM359 249h1v2h-1zM360 247h1v2h-1zM361 243h1v4h-1zM362 241h1v2h-1zM363 240h1v1h-1zM364 240h1v1h-1zM365 239h1v1h-1zM366 239h1v1h-1zM367 237h1v2h-1zM368 236h1v1h-1zM369 236h1v1h-1zM370 236h1v1h-1zM371 235h1v1h-1zM372 234h1v1h-1zM373 233h1v1h-1zM374 231h1v3h-1zM375 234h1v4h-1zM376 238h1v1h-1zM377 239h1v2h-1zM378 241h1v1h-1zM379 242h1v2h-1zM380 244h1v3h-1zM381 247h1v4h-1zM382 251h1v4h-1zM383 255h1v3h-1zM384 258h1v4h-1zM385 262h1v2h-1zM386 264h1v1h-1zM387 265h1v2h-1zM388 267h1v2h-1zM389 269h1v2h-1zM390 267h1v2h-1zM391 265h1v2h-1zM392 262h1v3h-1zM393 260h1v2h-1zM394 258h1v2h-1zM395 256h1v2h-1zM396 254h1v2h-1zM397 252h1v2h-1zM398 251h1v1h-1zM399 250h1v1h-1zM400 251h1v2h-1zM401 253h1v3h-1zM402 256h1v3h-1zM403 259h1v3h-1zM404 262h1v2h-1zM405 264h1v2h-1zM406 265h1v3h-1zM407 261h1v4h-1zM408 257h1v4h-1zM409 255h1v2h-1zM410 253h1v2h-1zM411 252h1v1h-1zM412 251h1v1h-1zM413 249h1v2h-1zM414 247h1v2h-1zM415 245h1v2h-1zM416 243h1v2h-1zM417 241h1v2h-1zM418 239h1v2h-1zM419 237h1v2h-1zM420 235h1v2h-1zM421 233h1v2h-1zM422 232h1v1h-1zM423 233h1v2h-1zM424 235h1v5h-1zM425 240h1v6h-1zM426 246h1v2h-1zM427 245h1v2h-1zM428 244h1v1h-1zM429 243h1v1h-1zM430 242h1v1h-1zM431 242h1v1h-1zM432 241h1v1h-1zM433 239h1v2h-1zM434 237h1v2h-1zM435 238h1v1h-1zM436 238h1v2h-1zM437 240h1v2h-1zM438 242h1v4h-1zM439 246h1v4h-1zM440 250h1v4h-1zM441 254h1v3h-1zM442 257h1v2h-1zM443 259h1v2h-1zM444 261h1v1h-1zM445 261h1v1h-1zM446 261h1v1h-1zM447 260h1v1h-1zM448 259h1v1h-1zM449 260h1v2h-1zM450 262h1v2h-1zM451 261h1v2h-1zM452 250h1v11h-1zM453 249h1v1h-1zM454 246h1v4h-1zM455 241h1v5h-1zM456 237h1v4h-1zM457 234h1v3h-1zM458 232h1v2h-1zM459 233h1v1h-1zM460 233h1v1h-1zM461 232h1v1h-1zM462 233h1v1h-1zM463 233h1v1h-1zM464 233h1v1h-1zM465 232h1v2h-1zM466 230h1v2h-1zM467 228h1v2h-1zM468 227h1v1h-1zM469 226h1v1h-1zM470 227h1v1h-1zM471 228h1v1h-1zM472 227h1v1h-1zM473 225h1v2h-1zM474 224h1v1h-1zM475 223h1v1h-1zM476 222h1v1h-1zM477 222h1v1h-1zM478 221h1v1h-1zM479 222h1v1h-1zM480 223h1v1h-1zM481 222h1v1h-1zM482 221h1v1h-1zM483 222h1v1h-1zM484 222h1v1h-1zM485 220h1v2h-1zM486 219h1v1h-1zM487 219h1v1h-1zM488 219h1v1h-1zM489 220h1v1h-1zM490 221h1v1h-1zM491 222h1v2h-1zM492 224h1v2h-1zM493 226h1v4h-1zM494 230h1v2h-1zM495 232h1v2h-1zM496 234h1v2h-1zM497 236h1v2h-1zM498 238h1v2h-1zM499 240h1v2h-1zM500 241h1v1h-1zM501 241h1v2h-1zM502 243h1v2h-1zM503 242h1v2h-1zM504 240h1v2h-1zM505 238h1v2h-1zM506 239h1v1h-1zM507 239h1v1h-1zM508 240h1v1h-1zM509 238h1v2h-1zM510 236h1v2h-1zM511 234h1v2h-1zM512 235h1v1h-1zM513 236h1v2h-1zM514 238h1v3h-1zM515 238h1v2h-1zM516 238h1v1h-1zM517 238h1v1h-1zM518 237h1v1h-1zM519 236h1v1h-1zM520 235h1v1h-1zM521 234h1v2h-1zM522 236h1v2h-1zM523 238h1v2h-1zM524 240h1v1h-1zM525 241h1v2h-1zM526 243h1v2h-1zM527 245h1v2h-1zM528 247h1v2h-1zM529 248h1v1h-1zM530 247h1v2h-1zM531 245h1v2h-1zM532 243h1v2h-1zM533 241h1v2h-1zM534 239h1v2h-1zM535 237h1v2h-1zM536 238h1v1h-1zM537 239h1v1h-1zM538 238h1v1h-1zM539 238h1v1h-1zM540 239h1v2h-1zM541 241h1v1h-1zM542 241h1v1h-1zM543 241h1v1h-1zM544 240h1v1h-1zM545 240h1v3h-1zM546 243h1v10h-1zM547 253h1v10h-1zM548 263h1v3h-1zM549 264h1v4h-1zM550 256h1v8h-1zM551 251h1v5h-1zM552 251h1v1h-1zM553 251h1v1h-1zM554 250h1v1h-1zM555 249h1v1h-1zM556 248h1v1h-1zM557 249h1v2h-1zM558 250h1v2h-1zM559 247h1v3h-1zM560 243h1v4h-1zM561 238h1v5h-1zM562 231h1v7h-1zM563 224h1v7h-1zM564 221h1v4h-1zM565 225h1v18h-1zM566 243h1v5h-1zM567 248h1v1h-1zM568 249h1v1h-1zM569 250h1v1h-1zM570 251h1v1h-1zM571 251h1v1h-1zM572 250h1v1h-1zM573 249h1v1h-1zM574 248h1v1h-1zM575 247h1v2h-1zM576 245h1v2h-1zM577 242h1v3h-1zM578 240h1v2h-1zM579 238h1v2h-1zM580 237h1v1h-1zM581 238h1v2h-1zM582 240h1v2h-1zM583 242h1v2h-1zM584 244h1v1h-1zM585 245h1v1h-1zM586 245h1v2h-1zM587 247h1v3h-1zM588 250h1v2h-1zM589 252h1v2h-1zM590 254h1v2h-1zM591 251h1v3h-1zM592 248h1v3h-1zM593 244h1v4h-1zM594 241h1v3h-1zM595 238h1v3h-1zM596 234h1v4h-1zM597 230h1v4h-1zM598 227h1v3h-1zM599 228h1v1h-1zM600 229h1v1h-1zM601 230h1v1h-1zM602 231h1v1h-1zM603 229h1v2h-1zM604 228h1v1h-1zM605 226h1v2h-1zM606 224h1v2h-1zM607 225h1v2h-1zM608 227h1v1h-1zM609 228h1v1h-1zM610 229h1v1h-1zM611 230h1v1h-1zM612 231h1v2h-1zM613 233h1v3h-1zM614 236h1v3h-1zM615 239h1v4h-1zM616 243h1v2h-1zM617 245h1v1h-1zM618 246h1v2h-1zM619 248h1v2h-1zM620 248h1v1h-1z"/>
<rect x="581" y="48" width="29" height="1" fill="#ff0000"/>
<rect x="581" y="61" width="29" height="1" fill="#00c000"/>
<rect x="581" y="74" width="29" height="1" fill="#0080ff"/>
<rect x="581" y="87" width="29" height="1" fill="#c000ff"/>
<path fill="#000" fill-rule="evenodd" d="M54 38h568v416h-568z M55 39v414h566v-414zM55 107h4v1h-4z M617 107h4v1h-4zM55 176h4v1h-4z M617 176h4v1h-4zM55 246h4v1h-4z M617 246h4v1h-4zM55 315h4v1h-4z M617 315h4v1h-4zM55 384h4v1h-4z M617 384h4v1h-4zM159 39h1v4h-1z M159 449h1v4h-1zM264 39h1v4h-1z M264 449h1v4h-1zM369 39h1v4h-1z M369 449h1v4h-1zM474 39h1v4h-1z M474 449h1v4h-1zM579 39h1v4h-1z M579 449h1v4h-1z"/>
<g fill="#000">
<g><title>m1020_04</title><path d="M313 17h2v1h-2zM316 17h1v1h-1zM313 18h1v1h-1zM315 18h1v1h-1zM317 18h1v1h-1zM313 19h1v1h-1zM315 19h1v1h-1zM317 19h1v1h-1zM313 20h1v1h-1zM315 20h1v1h-1zM317 20h1v1h-1zM313 21h1v1h-1zM315 21h1v1h-1zM317 21h1v1h-1zM313 22h1v1h-1zM317 22h1v1h-1zM321 15h1v1h-1zM320 16h2v1h-2zM319 17h1v1h-1zM321 17h1v1h-1zM321 18h1v1h-1zM321 19h1v1h-1zM321 20h1v1h-1zM321 21h1v1h-1zM319 22h5v1h-5zM327 15h1v1h-1zM326 16h1v1h-1zM328 16h1v1h-1zM325 17h1v1h-1zM329 17h1v1h-1zM325 18h1v1h-1zM329 18h1v1h-1zM325 19h1v1h-1zM329 19h1v1h-1zM325 20h1v1h-1zM329 20h1v1h-1zM326 21h1v1h-1zM328 21h1v1h-1zM327 22h1v1h-1zM332 15h3v1h-3zM331 16h1v1h-1zM335 16h1v1h-1zM335 17h1v1h-1zM334 18h1v1h-1zM333 19h1v1h-1zM332 20h1v1h-1zM331 21h1v1h-1zM331 22h5v1h-5zM339 15h1v1h-1zM338 16h1v1h-1zM340 16h1v1h-1zM337 17h1v1h-1zM341 17h1v1h-1zM337 18h1v1h-1zM341 18h1v1h-1zM337 19h1v1h-1zM341 19h1v1h-1zM337 20h1v1h-1zM341 20h1v1h-1zM338 21h1v1h-1zM340 21h1v1h-1zM339 22h1v1h-1zM343 23h5v1h-5zM351 15h1v1h-1zM350 16h1v1h-1zM352 16h1v1h-1zM349 17h1v1h-1zM353 17h1v1h-1zM349 18h1v1h-1zM353 18h1v1h-1zM349 19h1v1h-1zM353 19h1v1h-1zM349 20h1v1h-1zM353 20h1v1h-1zM350 21h1v1h-1zM352 21h1v1h-1zM351 22h1v1h-1zM358 15h1v1h-1zM357 16h2v1h-2zM356 17h1v1h-1zM358 17h1v1h-1zM355 18h1v1h-1zM358 18h1v1h-1zM355 19h1v1h-1zM358 19h1v1h-1zM355 20h5v1h-5zM358 21h1v1h-1zM358 22h1v1h-1z"/></g>
<g><title>15000</title><path d="M20 35h1v1h-1zM19 36h2v1h-2zM18 37h1v1h-1zM20 37h1v1h-1zM20 38h1v1h-1zM20 39h1v1h-1zM20 40h1v1h-1zM20 41h1v1h-1zM18 42h5v1h-5zM24 35h5v1h-5zM24 36h1v1h-1zM24 37h1v1h-1zM24 38h4v1h-4zM28 39h1v1h-1zM28 40h1v1h-1zM24 41h1v1h-1zM28 41h1v1h-1zM25 42h3v1h-3zM32 35h1v1h-1zM31 36h1v1h-1zM33 36h1v1h-1zM30 37h1v1h-1zM34 37h1v1h-1zM30 38h1v1h-1zM34 38h1v1h-1zM30 39h1v1h-1zM34 39h1v1h-1zM30 40h1v1h-1zM34 40h1v1h-1zM31 41h1v1h-1zM33 41h1v1h-1zM32 42h1v1h-1zM38 35h1v1h-1zM37 36h1v1h-1zM39 36h1v1h-1zM36 37h1v1h-1zM40 37h1v1h-1zM36 38h1v1h-1zM40 38h1v1h-1zM36 39h1v1h-1zM40 39h1v1h-1zM36 40h1v1h-1zM40 40h1v1h-1zM37 41h1v1h-1zM39 41h1v1h-1zM38 42h1v1h-1zM44 35h1v1h-1zM43 36h1v1h-1zM45 36h1v1h-1zM42 37h1v1h-1zM46 37h1v1h-1zM42 38h1v1h-1zM46 38h1v1h-1zM42 39h1v1h-1zM46 39h1v1h-1zM42 40h1v1h-1zM46 40h1v1h-1zM43 41h1v1h-1zM45 41h1v1h-1zM44 42h1v1h-1z"/></g>
<g><title>10000</title><path d="M20 104h1v1h-1zM19 105h2v1h-2zM18 106h1v1h-1zM20 106h1v1h-1zM20 107h1v1h-1zM20 108h1v1h-1zM20 109h1v1h-1zM20 110h1v1h-1zM18 111h5v1h-5zM26 104h1v1h-1zM25 105h1v1h-1zM27 105h1v1h-1zM24 106h1v1h-1zM28 106h1v1h-1zM24 107h1v1h-1zM28 107h1v1h-1zM24 108h1v1h-1zM28 108h1v1h-1zM24 109h1v1h-1zM28 109h1v1h-1zM25 110h1v1h-1zM27 110h1v1h-1zM26 111h1v1h-1zM32 104h1v1h-1zM31 105h1v1h-1zM33 105h1v1h-1zM30 106h1v1h-1zM34 106h1v1h-1zM30 107h1v1h-1zM34 107h1v1h-1zM30 108h1v1h-1zM34 108h1v1h-1zM30 109h1v1h-1zM34 109h1v1h-1zM31 110h1v1h-1zM33 110h1v1h-1zM32 111h1v1h-1zM38 104h1v1h-1zM37 105h1v1h-1zM39 105h1v1h-1zM36 106h1v1h-1zM40 106h1v1h-1zM36 107h1v1h-1zM40 107h1v1h-1zM36 108h1v1h-1zM40 108h1v1h-1zM36 109h1v1h-1zM40 109h1v1h-1zM37 110h1v1h-1zM39 110h1v1h-1zM38 111h1v1h-1zM44 104h1v1h-1zM43 105h1v1h-1zM45 105h1v1h-1zM42 106h1v1h-1zM46 106h1v1h-1zM42 107h1v1h-1zM46 107h1v1h-1zM42 108h1v1h-1zM46 108h1v1h-1zM42 109h1v1h-1zM46 109h1v1h-1zM43 110h1v1h-1zM45 110h1v1h-1zM44 111h1v1h-1z"/></g>
<g><title>5000</title><path d="M24 173h5v1h-5zM24 174h1v1h-1zM24 175h1v1h-1zM24 176h4v1h-4zM28 177h1v1h-1zM28 178h1v1h-1zM24 179h1v1h-1zM28 179h1v1h-1zM25 180h3v1h-3zM32 173h1v1h-1zM31 174h1v1h-1zM33 174h1v1h-1zM30 175h1v1h-1zM34 175h1v1h-1zM30 176h1v1h-1zM34 176h1v1h-1zM30 177h1v1h-1zM34 177h1v1h-1zM30 178h1v1h-1zM34 178h1v1h-1zM31 179h1v1h-1zM33 179h1v1h-1zM32 180h1v1h-1zM38 173h1v1h-1zM37 174h1v1h-1zM39 174h1v1h-1zM36 175h1v1h-1zM40 175h1v1h-1zM36 176h1v1h-1zM40 176h1v1h-1zM36 177h1v1h-1zM40 177h1v1h-1zM36 178h1v1h-1zM40 178h1v1h-1zM37 179h1v1h-1zM39 179h1v1h-1zM38 180h1v1h-1zM44 173h1v1h-1zM43 174h1v1h-1zM45 174h1v1h-1zM42 175h1v1h-1zM46 175h1v1h-1zM42 176h1v1h-1zM46 176h1v1h-1zM42 177h1v1h-1zM46 177h1v1h-1zM42 178h1v1h-1zM46 178h1v1h-1zM43 179h1v1h-1zM45 179h1v1h-1zM44 180h1v1h-1z"/></g>
<g><title>0</title><path d="M44 243h1v1h-1zM43 244h1v1h-1zM45 244h1v1h-1zM42 245h1v1h-1zM46 245h1v1h-1zM42 246h1v1h-1zM46 246h1v1h-1zM42 247h1v1h-1zM46 247h1v1h-1zM42 248h1v1h-1zM46 248h1v1h-1zM43 249h1v1h-1zM45 249h1v1h-1zM44 250h1v1h-1z"/></g>
<g><title>-5000</title><path d="M18 316h5v1h-5zM24 312h5v1h-5zM24 313h1v1h-1zM24 314h1v1h-1zM24 315h4v1h-4zM28 316h1v1h-1zM28 317h1v1h-1zM24 318h1v1h-1zM28 318h1v1h-1zM25 319h3v1h-3zM32 312h1v1h-1zM31 313h1v1h-1zM33 313h1v1h-1zM30 314h1v1h-1zM34 314h1v1h-1zM30 315h1v1h-1zM34 315h1v1h-1zM30 316h1v1h-1zM34 316h1v1h-1zM30 317h1v1h-1zM34 317h1v1h-1zM31 318h1v1h-1zM33 318h1v1h-1zM32 319h1v1h-1zM38 312h1v1h-1zM37 313h1v1h-1zM39 313h1v1h-1zM36 314h1v1h-1zM40 314h1v1h-1zM36 315h1v1h-1zM40 315h1v1h-1zM36 316h1v1h-1zM40 316h1v1h-1zM36 317h1v1h-1zM40 317h1v1h-1zM37 318h1v1h-1zM39 318h1v1h-1zM38 319h1v1h-1zM44 312h1v1h-1zM43 313h1v1h-1zM45 313h1v1h-1zM42 314h1v1h-1zM46 314h1v1h-1zM42 315h1v1h-1zM46 315h1v1h-1zM42 316h1v1h-1zM46 316h1v1h-1zM42 317h1v1h-1zM46 317h1v1h-1zM43 318h1v1h-1zM45 318h1v1h-1zM44 319h1v1h-1z"/></g>
<g><title>-10000</title><path d="M12 385h5v1h-5zM20 381h1v1h-1zM19 382h2v1h-2zM18 383h1v1h-1zM20 383h1v1h-1zM20 384h1v1h-1zM20 385h1v1h-1zM20 386h1v1h-1zM20 387h1v1h-1zM18 388h5v1h-5zM26 381h1v1h-1zM25 382h1v1h-1zM27 382h1v1h-1zM24 383h1v1h-1zM28 383h1v1h-1zM24 384h1v1h-1zM28 384h1v1h-1zM24 385h1v1h-1zM28 385h1v1h-1zM24 386h1v1h-1zM28 386h1v1h-1zM25 387h1v1h-1zM27 387h1v1h-1zM26 388h1v1h-1zM32 381h1v1h-1zM31 382h1v1h-1zM33 382h1v1h-1zM30 383h1v1h-1zM34 383h1v1h-1zM30 384h1v1h-1zM34 384h1v1h-1zM30 385h1v1h-1zM34 385h1v1h-1zM30 386h1v1h-1zM34 386h1v1h-1zM31 387h1v1h-1zM33 387h1v1h-1zM32 388h1v1h-1zM38 381h1v1h-1zM37 382h1v1h-1zM39 382h1v1h-1zM36 383h1v1h-1zM40 383h1v1h-1zM36 384h1v1h-1zM40 384h1v1h-1zM36 385h1v1h-1zM40 385h1v1h-1zM36 386h1v1h-1zM40 386h1v1h-1zM37 387h1v1h-1zM39 387h1v1h-1zM38 388h1v1h-1zM44 381h1v1h-1zM43 382h1v1h-1zM45 382h1v1h-1zM42 383h1v1h-1zM46 383h1v1h-1zM42 384h1v1h-1zM46 384h1v1h-1zM42 385h1v1h-1zM46 385h1v1h-1zM42 386h1v1h-1zM46 386h1v1h-1zM43 387h1v1h-1zM45 387h1v1h-1zM44 388h1v1h-1z"/></g>
<g><title>-15000</title><path d="M12 454h5v1h-5zM20 450h1v1h-1zM19 451h2v1h-2zM18 452h1v1h-1zM20 452h1v1h-1zM20 453h1v1h-1zM20 454h1v1h-1zM20 455h1v1h-1zM20 456h1v1h-1zM18 457h5v1h-5zM24 450h5v1h-5zM24 451h1v1h-1zM24 452h1v1h-1zM24 453h4v1h-4zM28 454h1v1h-1zM28 455h1v1h-1zM24 456h1v1h-1zM28 456h1v1h-1zM25 457h3v1h-3zM32 450h1v1h-1zM31 451h1v1h-1zM33 451h1v1h-1zM30 452h1v1h-1zM34 452h1v1h-1zM30 453h1v1h-1zM34 453h1v1h-1zM30 454h1v1h-1zM34 454h1v1h-1zM30 455h1v1h-1zM34 455h1v1h-1zM31 456h1v1h-1zM33 456h1v1h-1zM32 457h1v1h-1zM38 450h1v1h-1zM37 451h1v1h-1zM39 451h1v1h-1zM36 452h1v1h-1zM40 452h1v1h-1zM36 453h1v1h-1zM40 453h1v1h-1zM36 454h1v1h-1zM40 454h1v1h-1zM36 455h1v1h-1zM40 455h1v1h-1zM37 456h1v1h-1zM39 456h1v1h-1zM38 457h1v1h-1zM44 450h1v1h-1zM43 451h1v1h-1zM45 451h1v1h-1zM42 452h1v1h-1zM46 452h1v1h-1zM42 453h1v1h-1zM46 453h1v1h-1zM42 454h1v1h-1zM46 454h1v1h-1zM42 455h1v1h-1zM46 455h1v1h-1zM43 456h1v1h-1zM45 456h1v1h-1zM44 457h1v1h-1z"/></g>
<g><title>0</title><path d="M56 463h1v1h-1zM55 464h1v1h-1zM57 464h1v1h-1zM54 465h1v1h-1zM58 465h1v1h-1zM54 466h1v1h-1zM58 466h1v1h-1zM54 467h1v1h-1zM58 467h1v1h-1zM54 468h1v1h-1zM58 468h1v1h-1zM55 469h1v1h-1zM57 469h1v1h-1zM56 470h1v1h-1z"/></g>
<g><title>100</title><path d="M155 463h1v1h-1zM154 464h2v1h-2zM153 465h1v1h-1zM155 465h1v1h-1zM155 466h1v1h-1zM155 467h1v1h-1zM155 468h1v1h-1zM155 469h1v1h-1zM153 470h5v1h-5zM161 463h1v1h-1zM160 464h1v1h-1zM162 464h1v1h-1zM159 465h1v1h-1zM163 465h1v1h-1zM159 466h1v1h-1zM163 466h1v1h-1zM159 467h1v1h-1zM163 467h1v1h-1zM159 468h1v1h-1zM163 468h1v1h-1zM160 469h1v1h-1zM162 469h1v1h-1zM161 470h1v1h-1zM167 463h1v1h-1zM166 464h1v1h-1zM168 464h1v1h-1zM165 465h1v1h-1zM169 465h1v1h-1zM165 466h1v1h-1zM169 466h1v1h-1zM165 467h1v1h-1zM169 467h1v1h-1zM165 468h1v1h-1zM169 468h1v1h-1zM166 469h1v1h-1zM168 469h1v1h-1zM167 470h1v1h-1z"/></g>
<g><title>200</title><path d="M259 463h3v1h-3zM258 464h1v1h-1zM262 464h1v1h-1zM262 465h1v1h-1zM261 466h1v1h-1zM260 467h1v1h-1zM259 468h1v1h-1zM258 469h1v1h-1zM258 470h5v1h-5zM266 463h1v1h-1zM265 464h1v1h-1zM267 464h1v1h-1zM264 465h1v1h-1zM268 465h1v1h-1zM264 466h1v1h-1zM268 466h1v1h-1zM264 467h1v1h-1zM268 467h1v1h-1zM264 468h1v1h-1zM268 468h1v1h-1zM265 469h1v1h-1zM267 469h1v1h-1zM266 470h1v1h-1zM272 463h1v1h-1zM271 464h1v1h-1zM273 464h1v1h-1zM270 465h1v1h-1zM274 465h1v1h-1zM270 466h1v1h-1zM274 466h1v1h-1zM270 467h1v1h-1zM274 467h1v1h-1zM270 468h1v1h-1zM274 468h1v1h-1zM271 469h1v1h-1zM273 469h1v1h-1zM272 470h1v1h-1z"/></g>
<g><title>300</title><path d="M364 463h3v1h-3zM363 464h1v1h-1zM367 464h1v1h-1zM367 465h1v1h-1zM365 466h2v1h-2zM367 467h1v1h-1zM367 468h1v1h-1zM363 469h1v1h-1zM367 469h1v1h-1zM364 470h3v1h-3zM371 463h1v1h-1zM370 464h1v1h-1zM372 464h1v1h-1zM369 465h1v1h-1zM373 465h1v1h-1zM369 466h1v1h-1zM373 466h1v1h-1zM369 467h1v1h-1zM373 467h1v1h-1zM369 468h1v1h-1zM373 468h1v1h-1zM370 469h1v1h-1zM372 469h1v1h-1zM371 470h1v1h-1zM377 463h1v1h-1zM376 464h1v1h-1zM378 464h1v1h-1zM375 465h1v1h-1zM379 465h1v1h-1zM375 466h1v1h-1zM379 466h1v1h-1zM375 467h1v1h-1zM379 467h1v1h-1zM375 468h1v1h-1zM379 468h1v1h-1zM376 469h1v1h-1zM378 469h1v1h-1zM377 470h1v1h-1z"/></g>
<g><title>400</title><path d="M471 463h1v1h-1zM470 464h2v1h-2zM469 465h1v1h-1zM471 465h1v1h-1zM468 466h1v1h-1zM471 466h1v1h-1zM468 467h1v1h-1zM471 467h1v1h-1zM468 468h5v1h-5zM471 469h1v1h-1zM471 470h1v1h-1zM476 463h1v1h-1zM475 464h1v1h-1zM477 464h1v1h-1zM474 465h1v1h-1zM478 465h1v1h-1zM474 466h1v1h-1zM478 466h1v1h-1zM474 467h1v1h-1zM478 467h1v1h-1zM474 468h1v1h-1zM478 468h1v1h-1zM475 469h1v1h-1zM477 469h1v1h-1zM476 470h1v1h-1zM482 463h1v1h-1zM481 464h1v1h-1zM483 464h1v1h-1zM480 465h1v1h-1zM484 465h1v1h-1zM480 466h1v1h-1zM484 466h1v1h-1zM480 467h1v1h-1zM484 467h1v1h-1zM480 468h1v1h-1zM484 468h1v1h-1zM481 469h1v1h-1zM483 469h1v1h-1zM482 470h1v1h-1z"/></g>
<g><title>500</title><path d="M573 463h5v1h-5zM573 464h1v1h-1zM573 465h1v1h-1zM573 466h4v1h-4zM577 467h1v1h-1zM577 468h1v1h-1zM573 469h1v1h-1zM577 469h1v1h-1zM574 470h3v1h-3zM581 463h1v1h-1zM580 464h1v1h-1zM582 464h1v1h-1zM579 465h1v1h-1zM583 465h1v1h-1zM579 466h1v1h-1zM583 466h1v1h-1zM579 467h1v1h-1zM583 467h1v1h-1zM579 468h1v1h-1zM583 468h1v1h-1zM580 469h1v1h-1zM582 469h1v1h-1zM581 470h1v1h-1zM587 463h1v1h-1zM586 464h1v1h-1zM588 464h1v1h-1zM585 465h1v1h-1zM589 465h1v1h-1zM585 466h1v1h-1zM589 466h1v1h-1zM585 467h1v1h-1zM589 467h1v1h-1zM585 468h1v1h-1zM589 468h1v1h-1zM586 469h1v1h-1zM588 469h1v1h-1zM587 470h1v1h-1z"/></g>
<g><title>line 1</title><path d="M540 45h2v1h-2zM541 46h1v1h-1zM541 47h1v1h-1zM541 48h1v1h-1zM541 49h1v1h-1zM541 50h1v1h-1zM541 51h1v1h-1zM540 52h3v1h-3zM547 45h1v1h-1zM546 47h2v1h-2zM547 48h1v1h-1zM547 49h1v1h-1zM547 50h1v1h-1zM547 51h1v1h-1zM546 52h3v1h-3zM551 47h1v1h-1zM553 47h2v1h-2zM551 48h2v1h-2zM555 48h1v1h-1zM551 49h1v1h-1zM555 49h1v1h-1zM551 50h1v1h-1zM555 50h1v1h-1zM551 51h1v1h-1zM555 51h1v1h-1zM551 52h1v1h-1zM555 52h1v1h-1zM558 47h3v1h-3zM557 48h1v1h-1zM561 48h1v1h-1zM557 49h5v1h-5zM557 50h1v1h-1zM557 51h1v1h-1zM561 51h1v1h-1zM558 52h3v1h-3zM571 45h1v1h-1zM570 46h2v1h-2zM569 47h1v1h-1zM571 47h1v1h-1zM571 48h1v1h-1zM571 49h1v1h-1zM571 50h1v1h-1zM571 51h1v1h-1zM569 52h5v1h-5z"/></g>
<g><title>line 2</title><path d="M540 58h2v1h-2zM541 59h1v1h-1zM541 60h1v1h-1zM541 61h1v1h-1zM541 62h1v1h-1zM541 63h1v1h-1zM541 64h1v1h-1zM540 65h3v1h-3zM547 58h1v1h-1zM546 60h2v1h-2zM547 61h1v1h-1zM547 62h1v1h-1zM547 63h1v1h-1zM547 64h1v1h-1zM546 65h3v1h-3zM551 60h1v1h-1zM553 60h2v1h-2zM551 61h2v1h-2zM555 61h1v1h-1zM551 62h1v1h-1zM555 62h1v1h-1zM551 63h1v1h-1zM555 63h1v1h-1zM551 64h1v1h-1zM555 64h1v1h-1zM551 65h1v1h-1zM555 65h1v1h-1zM558 60h3v1h-3zM557 61h1v1h-1zM561 61h1v1h-1zM557 62h5v1h-5zM557 63h1v1h-1zM557 64h1v1h-1zM561 64h1v1h-1zM558 65h3v1h-3zM570 58h3v1h-3zM569 59h1v1h-1zM573 59h1v1h-1zM573 60h1v1h-1zM572 61h1v1h-1zM571 62h1v1h-1zM570 63h1v1h-1zM569 64h1v1h-1zM569 65h5v1h-5z"/></g>
<g><title>line 3</title><path d="M540 71h2v1h-2zM541 72h1v1h-1zM541 73h1v1h-1zM541 74h1v1h-1zM541 75h1v1h-1zM541 76h1v1h-1zM541 77h1v1h-1zM540 78h3v1h-3zM547 71h1v1h-1zM546 73h2v1h-2zM547 74h1v1h-1zM547 75h1v1h-1zM547 76h1v1h-1zM547 77h1v1h-1zM546 78h3v1h-3zM551 73h1v1h-1zM553 73h2v1h-2zM551 74h2v1h-2zM555 74h1v1h-1zM551 75h1v1h-1zM555 75h1v1h-1zM551 76h1v1h-1zM555 76h1v1h-1zM551 77h1v1h-1zM555 77h1v1h-1zM551 78h1v1h-1zM555 78h1v1h-1zM558 73h3v1h-3zM557 74h1v1h-1zM561 74h1v1h-1zM557 75h5v1h-5zM557 76h1v1h-1zM557 77h1v1h-1zM561 77h1v1h-1zM558 78h3v1h-3zM570 71h3v1h-3zM569 72h1v1h-1zM573 72h1v1h-1zM573 73h1v1h-1zM571 74h2v1h-2zM573 75h1v1h-1zM573 76h1v1h-1zM569 77h1v1h-1zM573 77h1v1h-1zM570 78h3v1h-3z"/></g>
<g><title>line 4</title><path d="M540 84h2v1h-2zM541 85h1v1h-1zM541 86h1v1h-1zM541 87h1v1h-1zM541 88h1v1h-1zM541 89h1v1h-1zM541 90h1v1h-1zM540 91h3v1h-3zM547 84h1v1h-1zM546 86h2v1h-2zM547 87h1v1h-1zM547 88h1v1h-1zM547 89h1v1h-1zM547 90h1v1h-1zM546 91h3v1h-3zM551 86h1v1h-1zM553 86h2v1h-2zM551 87h2v1h-2zM555 87h1v1h-1zM551 88h1v1h-1zM555 88h1v1h-1zM551 89h1v1h-1zM555 89h1v1h-1zM551 90h1v1h-1zM555 90h1v1h-1zM551 91h1v1h-1zM555 91h1v1h-1zM558 86h3v1h-3zM557 87h1v1h-1zM561 87h1v1h-1zM557 88h5v1h-5zM557 89h1v1h-1zM557 90h1v1h-1zM561 90h1v1h-1zM558 91h3v1h-3zM572 84h1v1h-1zM571 85h2v1h-2zM570 86h1v1h-1zM572 86h1v1h-1zM569 87h1v1h-1zM572 87h1v1h-1zM569 88h1v1h-1zM572 88h1v1h-1zM569 89h5v1h-5zM572 90h1v1h-1zM572 91h1v1h-1z"/></g>
</g>
</svg>
</body></html>
